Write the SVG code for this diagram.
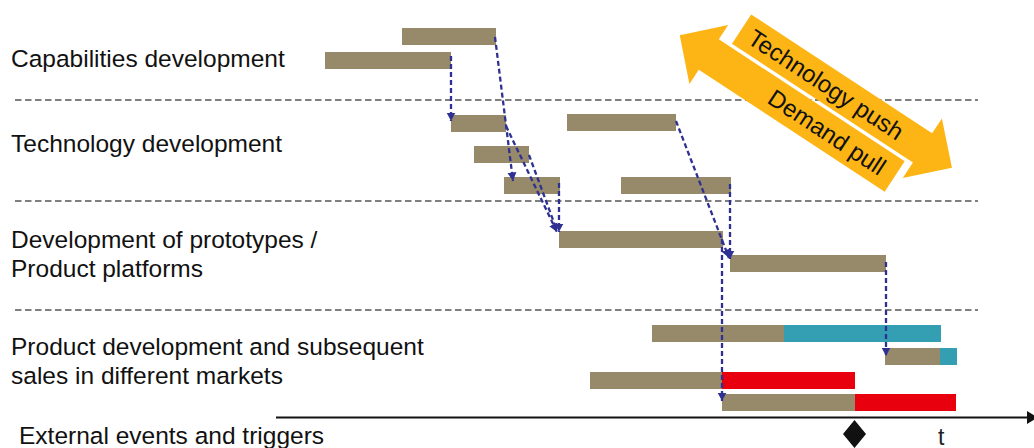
<svg xmlns="http://www.w3.org/2000/svg" width="1034" height="448" viewBox="0 0 1034 448">
<style>
.lbl{font-family:"Liberation Sans",Arial,sans-serif;font-size:24.5px;fill:#111}
.bar{fill:#968A6B}
.teal{fill:#349EB2}
.red{fill:#E8000E}
.sep{stroke:#555;stroke-width:1.6;stroke-dasharray:6.5 3.5;fill:none}
.con{stroke:#2F3192;stroke-width:2.3;stroke-dasharray:5 3;fill:none}
.arrtxt{font-family:"Liberation Sans",Arial,sans-serif;font-size:24px;fill:#111}
</style>
<defs>
<marker id="ah" markerUnits="userSpaceOnUse" markerWidth="10" markerHeight="10" refX="8.5" refY="5" orient="auto">
<path d="M0,0.5 L8.5,5 L0,9.5 z" fill="#2F3192"/>
</marker>
</defs>
<rect width="1034" height="448" fill="#fff"/>

<g id="labels">
<text class="lbl" x="11" y="67">Capabilities development</text>
<text class="lbl" x="11" y="152">Technology development</text>
<text class="lbl" x="11" y="248">Development of prototypes /</text>
<text class="lbl" x="11" y="277">Product platforms</text>
<text class="lbl" x="11" y="355">Product development and subsequent</text>
<text class="lbl" x="11" y="383.5">sales in different markets</text>
<text class="lbl" x="19" y="444">External events and triggers</text>
</g>

<g id="separators">
<line class="sep" x1="15" y1="100" x2="978" y2="100"/>
<line class="sep" x1="15" y1="201" x2="978" y2="201"/>
<line class="sep" x1="15" y1="310" x2="978" y2="310"/>
</g>

<g id="push-pull" transform="translate(720,40) rotate(33.3)">
<polygon fill="#FDB515" points="12,-38.5 228.5,-38.5 228.5,-56.3 264,-20.6 228.5,15 228.5,-3.5 12,-3.5"/>
<polygon fill="#FDB515" points="221,0 221,36.5 -1.4,36.5 -1.4,53.6 -36.2,18.2 -1.4,-17.1 -1.4,0"/>
<text class="arrtxt" x="113" y="-12.5" text-anchor="middle">Technology push</text>
<text class="arrtxt" x="140" y="26.7" text-anchor="middle">Demand pull</text>
</g>

<g id="bar-A"><rect class="bar" x="402" y="28" width="94" height="17"/></g>
<g id="bar-B"><rect class="bar" x="325" y="52" width="126" height="17"/></g>
<g id="bar-C"><rect class="bar" x="451" y="115" width="55" height="17"/></g>
<g id="bar-D"><rect class="bar" x="474" y="146" width="55" height="17"/></g>
<g id="bar-E"><rect class="bar" x="504" y="177" width="56" height="17"/></g>
<g id="bar-F"><rect class="bar" x="567" y="114" width="109" height="17"/></g>
<g id="bar-G"><rect class="bar" x="621" y="177" width="110" height="17"/></g>
<g id="bar-H"><rect class="bar" x="559" y="231" width="164" height="17"/></g>
<g id="bar-I"><rect class="bar" x="730" y="255" width="156" height="17"/></g>
<g id="bar-J"><rect class="bar" x="652" y="325" width="132" height="17"/><rect class="teal" x="784" y="325" width="157" height="17"/></g>
<g id="bar-K"><rect class="bar" x="885" y="348" width="55" height="17"/><rect class="teal" x="940" y="348" width="17" height="17"/></g>
<g id="bar-L"><rect class="bar" x="590" y="372" width="132" height="17"/><rect class="red" x="722" y="372" width="133" height="17"/></g>
<g id="bar-M"><rect class="bar" x="722" y="394" width="133" height="17"/><rect class="red" x="855" y="394" width="101" height="17"/></g>

<g id="connectors">
<path class="con" d="M451,56 V121" marker-end="url(#ah)"/>
<path class="con" d="M495,37 L513,181" marker-end="url(#ah)"/>
<path class="con" d="M506,126 L557,232" marker-end="url(#ah)"/>
<path class="con" d="M529,155 L556,228"/>
<path class="con" d="M559,183 V232" marker-end="url(#ah)"/>
<path class="con" d="M676,121 L729,258" marker-end="url(#ah)"/>
<path class="con" d="M730,184 V259" marker-end="url(#ah)"/>
<path class="con" d="M722,239 V401" marker-end="url(#ah)"/>
<path class="con" d="M886,262 V356" marker-end="url(#ah)"/>
</g>

<g id="time-axis">
<line x1="276" y1="417.5" x2="1030" y2="417.5" stroke="#111" stroke-width="2.2"/>
<polygon points="1027,411 1038,417.5 1027,424" fill="#111"/>
<text x="938" y="445" style="font-family:'Liberation Sans',Arial,sans-serif;font-size:23px;fill:#222">t</text>
</g>
<g id="event-diamond">
<polygon points="854.5,420 866,434 854.5,448 843,434" fill="#111"/>
</g>
</svg>
